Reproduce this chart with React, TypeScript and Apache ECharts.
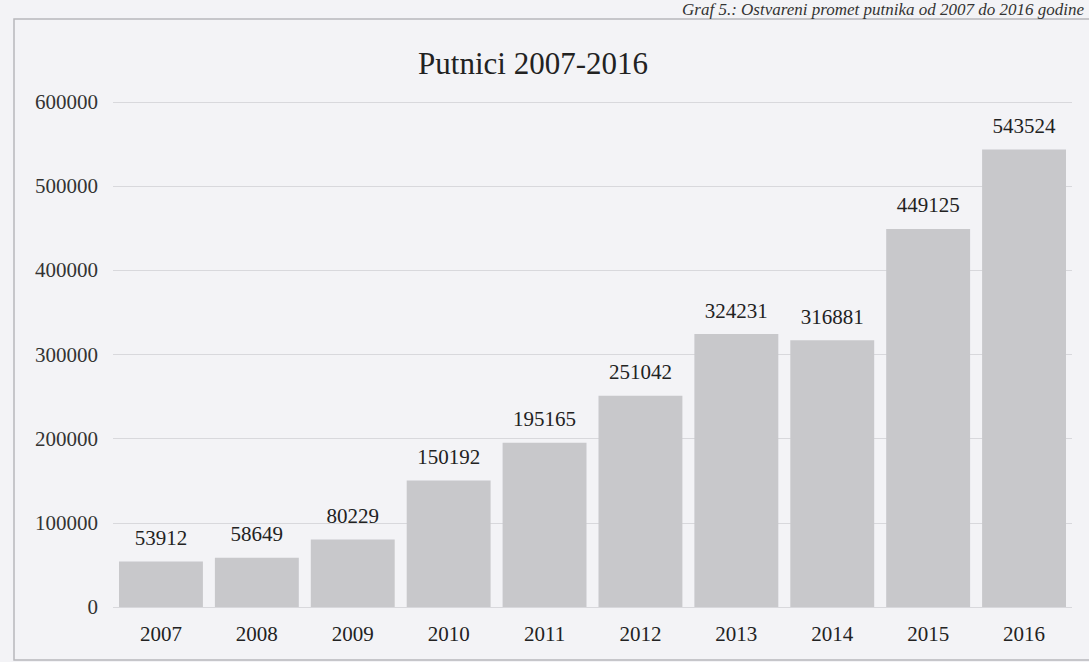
import React, { useEffect, useRef } from "react";
import * as echarts from "echarts";

const years = ["2007", "2008", "2009", "2010", "2011", "2012", "2013", "2014", "2015", "2016"];
const passengers = [53912, 58649, 80229, 150192, 195165, 251042, 324231, 316881, 449125, 543524];
const chartTitle = "Putnici 2007-2016";
const caption = "Graf 5.: Ostvareni promet putnika od 2007 do 2016 godine";

const SERIF = "'Liberation Serif', 'DejaVu Serif', serif";

export default function App() {
  const ref = useRef<HTMLDivElement>(null);
  useEffect(() => {
    if (!ref.current) return;
    const chart = echarts.init(ref.current, null, { renderer: "svg" });
    chart.setOption({
      animation: false,
      backgroundColor: "#f3f3f6",
      title: {
        text: chartTitle,
        left: 528,
        top: 43,
        textAlign: "center",
        textStyle: { fontFamily: SERIF, fontSize: 31, fontWeight: "normal", color: "#222" },
      },
      graphic: [
        {
          type: "rect",
          shape: { x: 14, y: 19, width: 1100, height: 641 },
          style: { fill: "none", stroke: "#b8b8bc", lineWidth: 1.5 },
          silent: true,
        },
        {
          type: "text",
          x: 1084,
          y: 1,
          style: {
            text: caption,
            font: `italic 17px ${SERIF}`,
            fill: "#333",
            align: "right",
            verticalAlign: "top",
          },
          silent: true,
        },
      ],
      grid: { left: 113, top: 102, width: 959, height: 505, containLabel: false },
      xAxis: {
        type: "category",
        data: years,
        axisLine: { show: false },
        axisTick: { show: false },
        axisLabel: { fontFamily: SERIF, fontSize: 21, color: "#222", margin: 16 },
      },
      yAxis: {
        type: "value",
        min: 0,
        max: 600000,
        interval: 100000,
        axisLine: { show: false },
        axisTick: { show: false },
        splitLine: { lineStyle: { color: "#d8d8dc", width: 1 } },
        axisLabel: {
          fontFamily: SERIF,
          fontSize: 21,
          color: "#333",
          margin: 15,
          formatter: (v: number) => String(v),
        },
      },
      series: [
        {
          type: "bar",
          data: passengers,
          barCategoryGap: "12.5%",
          itemStyle: { color: "#c8c8cb" },
          label: {
            show: true,
            position: "top",
            distance: 13,
            fontFamily: SERIF,
            fontSize: 21,
            color: "#222",
          },
        },
      ],
    });
    return () => chart.dispose();
  }, []);
  return (
    <div
      ref={ref}
      style={{ position: "absolute", left: 0, top: 0, width: 1089, height: 662 }}
    />
  );
}
